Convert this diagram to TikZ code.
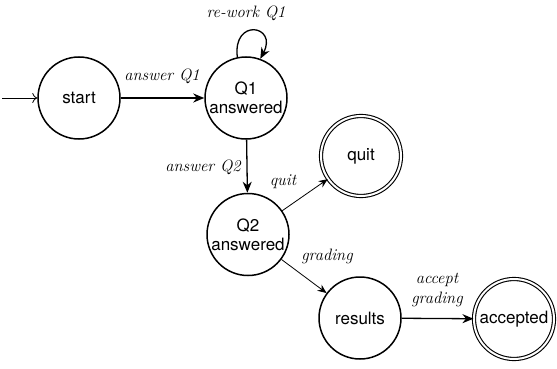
\documentclass[tikz,border=0pt]{standalone}
\usepackage{fontspec}
\setsansfont{TeX Gyre Heros}
\usetikzlibrary{arrows.meta}
\begin{document}
\begin{tikzpicture}[x=1pt,y=-1pt,
  state/.style={circle,draw,line width=1.5pt,minimum size=82pt,inner sep=0pt,
    font=\sffamily\fontsize{17}{19}\selectfont,align=center},
  accepting/.style={state,double,double distance=2pt,line width=1.1pt,minimum size=80pt},
  lbl/.style={font=\itshape\fontsize{16.5}{20}\selectfont,inner sep=0pt,align=center},
  thick arrow/.style={line width=1.3pt,-{Stealth[length=11pt,width=9pt,inset=3.5pt]}},
  thin arrow/.style={line width=0.8pt,-{Stealth[length=9pt,width=7.5pt,inset=3pt]}}]
\useasboundingbox (0,0) rectangle (557,369);
\node[state] (start) at (79,98) {start};
\node[state] (q1) at (246,98) {Q1\\answered};
\node[state] (q2) at (248,234.5) {Q2\\answered};
\node[accepting] (quit) at (361,156) {quit};
\node[state] (results) at (360,318) {results};
\node[accepting] (accepted) at (514,319) {accepted};
\coordinate (init) at (2,98);
\draw[line width=0.8pt,-{To[length=5pt,width=10pt]}] (init) -- (start);
\draw[thick arrow] (start) -- (q1);
\draw[thick arrow] (q1.102) .. controls +(-97:40) and +(-62:38) .. (q1.70);
\draw[thick arrow] (q1) -- (q2);
\draw[thin arrow] (q2) -- (quit);
\draw[thin arrow] (q2) -- (results);
\draw[thick arrow] (results) -- (accepted);
\node[lbl] (l1) at (246,13) {re-work Q1};
\node[lbl] (l2) at (162,76) {answer Q1};
\node[lbl] (l3) at (203,167) {answer Q2};
\node[lbl] (l4) at (283,182) {quit};
\node[lbl] (l5) at (327,256) {grading};
\node[lbl] (l6) at (437,290) {accept\\grading};
\end{tikzpicture}
\end{document}
